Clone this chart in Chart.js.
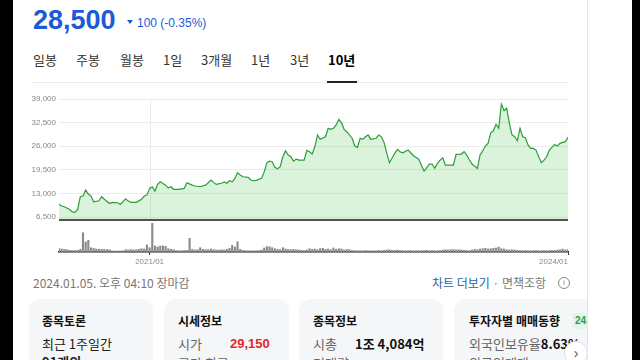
<!DOCTYPE html>
<html>
<head>
<meta charset="utf-8">
<script src="https://cdn.jsdelivr.net/npm/chart.js@4"></script>
<style>
  body { margin: 0; width: 640px; height: 360px; overflow: hidden; background: #000; position: relative;
         font-family: "Noto Sans CJK KR", "Noto Sans", sans-serif; }
  #page { position: absolute; left: 13px; top: 0; width: 619px; height: 360px; background: #fff; }
  #panel { position: absolute; left: 13px; top: 0; width: 574px; height: 360px; border-right: 1px solid #e4e4e4; overflow: hidden; }
  .t { position: absolute; white-space: nowrap; }
  .card { position: absolute; top: 299px; height: 80px; background: #f5f6f7; border-radius: 12px; }
  #chart { position: absolute; left: 0; top: 90px; }
</style>
</head>
<body>
<div id="page"></div>
<div id="panel">
  <div class="t" style="left:20px;top:7px;font:bold 27px/27px 'Liberation Sans';color:#1b5bd8;">28,500</div>
  <div class="t" style="left:114px;top:20px;width:0;height:0;border-left:3px solid transparent;border-right:3px solid transparent;border-top:4px solid #1b5bd8;"></div>
  <div class="t" style="left:124px;top:17px;font:12px/12px 'Liberation Sans';color:#1b5bd8;">100 (-0.35%)</div>

  <div class="t" style="left:20px;top:52px;font-size:13px;line-height:16px;color:#333;">일봉</div>
  <div class="t" style="left:63px;top:52px;font-size:13px;line-height:16px;color:#333;">주봉</div>
  <div class="t" style="left:107px;top:52px;font-size:13px;line-height:16px;color:#333;">월봉</div>
  <div class="t" style="left:150px;top:52px;font-size:13px;line-height:16px;color:#333;">1일</div>
  <div class="t" style="left:188px;top:52px;font-size:13px;line-height:16px;color:#333;">3개월</div>
  <div class="t" style="left:238px;top:52px;font-size:13px;line-height:16px;color:#333;">1년</div>
  <div class="t" style="left:277px;top:52px;font-size:13px;line-height:16px;color:#333;">3년</div>
  <div class="t" style="left:315px;top:52px;font-size:13px;line-height:16px;color:#000;font-weight:bold;">10년</div>
  <div class="t" style="left:19px;top:82px;width:536px;height:1px;background:#ececec;"></div>
  <div class="t" style="left:314px;top:81px;width:30px;height:2px;background:#222;"></div>

  <div class="t" style="left:20px;top:275px;font-size:12px;line-height:16px;color:#777;">2024.01.05. 오후 04:10 장마감</div>
  <div class="t" style="left:419px;top:275px;font-size:12px;line-height:16px;color:#2c5fa6;">차트 더보기 <span style="color:#777">· 면책조항</span></div>
  <div class="t" style="left:545px;top:277px;width:10px;height:10px;border:1px solid #888;border-radius:50%;font:8px/10px 'Liberation Sans';color:#888;text-align:center;">i</div>

  <div class="card" style="left:16px;width:124px;">
    <div class="t" style="left:13px;top:14px;font-size:12px;line-height:16px;font-weight:bold;color:#111;">종목토론</div>
    <div class="t" style="left:13px;top:37px;font-size:13px;line-height:16px;color:#222;">최근 1주일간</div>
    <div class="t" style="left:13px;top:55px;font-size:13px;line-height:16px;color:#222;font-weight:bold;">91개의</div>
  </div>
  <div class="card" style="left:151px;width:125px;">
    <div class="t" style="left:14px;top:14px;font-size:12px;line-height:16px;font-weight:bold;color:#111;">시세정보</div>
    <div class="t" style="left:14px;top:37px;font-size:13px;line-height:16px;color:#666;">시가</div>
    <div class="t" style="left:66px;top:37px;font:bold 13px/16px 'Liberation Sans';color:#e0282e;">29,150</div>
    <div class="t" style="left:14px;top:56px;font-size:13px;line-height:16px;color:#666;">고가 최고</div>
  </div>
  <div class="card" style="left:286px;width:144px;">
    <div class="t" style="left:14px;top:14px;font-size:12px;line-height:16px;font-weight:bold;color:#111;">종목정보</div>
    <div class="t" style="left:14px;top:37px;font-size:13px;line-height:16px;color:#666;">시총</div>
    <div class="t" style="left:56px;top:37px;font-size:13px;line-height:16px;font-weight:bold;color:#111;">1조 4,084억</div>
    <div class="t" style="left:14px;top:56px;font-size:13px;line-height:16px;color:#666;">거래량</div>
  </div>
  <div class="card" style="left:441px;width:200px;">
    <div class="t" style="left:15px;top:14px;font-size:12px;line-height:16px;font-weight:bold;color:#111;">투자자별 매매동향</div>
    <div class="t" style="left:118px;top:14px;padding:0 3px;font:bold 10px/16px 'Liberation Sans';color:#1f9d4c;background:#e4f5e8;border-radius:4px;">24.01.05</div>
    <div class="t" style="left:15px;top:37px;font-size:13px;line-height:16px;color:#666;">외국인보유율<b style="color:#111">8.63%</b></div>
    <div class="t" style="left:15px;top:56px;font-size:13px;line-height:16px;color:#666;">외국인매매</div>
  </div>
  <div class="t" style="left:551px;top:341px;width:22px;height:22px;border:1px solid #ddd;border-radius:50%;background:#fff;font:14px/22px 'Liberation Sans';color:#555;text-align:center;">&#x203A;</div>

  <canvas id="chart" width="587" height="180" style="left:-13px;"></canvas>
</div>

<script>
// weeks counted from the listing week (2020-05-08); week 191 = 2024-01-05
const priceWeeks = [0,1,2,4,5,6,7,8,9,10,11,12,13,15,16,17,19,20,22,23,25,26,27,29,31,32,33,34,35,36,37,38,40,41,42,43,45,47,48,50,51,53,55,56,57,58,59,61,62,63,64,65,66,67,68,69,71,72,73,74,76,77,78,79,80,81,82,83,84,85,86,87,88,89,90,92,93,94,95,96,97,98,100,101,102,103,104,105,106,107,108,110,111,112,113,114,115,116,117,119,120,121,122,123,124,126,127,128,129,131,132,133,135,136,137,139,140,141,142,143,144,145,147,148,149,151,152,153,154,155,157,158,159,160,161,162,163,164,165,166,167,168,169,170,171,172,173,174,175,176,177,178,179,180,181,182,183,184,186,187,188,189,190,191];
const prices = [10000,9550,9350,8600,7950,7800,8600,12100,12300,13950,12850,12300,10700,11000,12100,11400,10250,10550,10450,10000,11550,10900,10550,10550,11400,12300,12550,14400,14850,13650,15500,16200,15300,14550,14850,14150,14150,14400,15950,15300,15050,14850,15300,15950,16700,16050,15500,15800,16150,15800,16500,16200,17150,18700,18050,17600,17450,16700,16500,16600,17150,18950,21450,21900,21750,20200,19800,20350,23100,24750,23600,23100,21900,22450,22200,22200,24850,24500,23850,25850,29100,27900,28600,30950,30650,30950,31850,33400,32450,30650,30000,28200,26050,25700,28200,27900,28600,29100,27900,28200,29100,28600,27000,24050,21450,24050,25150,24500,24200,24950,24200,23400,22450,20800,19150,21100,21100,19900,21300,22200,22850,20800,20800,20800,23750,23850,24500,23600,22200,21100,19900,23600,24750,26050,26800,29700,30250,32050,30950,37600,35800,36450,32300,29100,28600,27500,30950,28600,28350,26350,25400,25400,24950,23100,21450,22200,23100,24950,26500,26050,26800,27050,27250,28500];
// weekly volume, one value per week 0..191
const volume = [330,300,270,230,170,150,150,170,270,1930,
  1000,1170,430,370,300,270,270,250,250,230,
  120,100,100,100,120,230,200,250,200,230,
  270,330,300,700,430,2870,600,500,600,600,
  570,330,270,230,150,130,130,150,170,1370,
  270,200,230,430,270,230,230,300,230,200,
  200,230,200,270,370,670,500,1030,270,170,
  130,130,120,120,130,150,200,400,530,530,
  430,330,270,230,430,300,270,230,270,230,
  200,170,150,200,330,270,300,230,330,370,
  270,300,230,400,270,330,300,200,250,230,
  150,130,120,130,120,150,130,120,130,120,
  150,130,170,200,230,170,150,200,150,130,
  120,130,150,120,130,120,130,150,170,130,
  150,120,130,150,200,230,200,230,250,200,
  230,200,170,150,130,200,270,230,300,330,
  370,300,330,370,400,500,330,300,230,200,
  230,200,170,150,130,150,130,120,130,150,
  130,120,150,130,150,170,150,200,230,300,
  200,270];
const tickWeeks = [0, 34, 191];
const tickLabels = ['', '2021/01', '2024/01'];
const priceTicks = [6500, 13000, 19500, 26000, 32500, 39000];

const priceFrame = {
  id: 'priceFrame',
  beforeDatasetsDraw(chart) {
    const { ctx, scales: { x, y } } = chart;
    ctx.save();
    ctx.strokeStyle = '#ebebeb';
    ctx.lineWidth = 1;
    tickWeeks.slice(1, -1).forEach(w => {
      const px = Math.round(x.getPixelForValue(w)) + 0.5;
      ctx.beginPath();
      ctx.moveTo(px, y.top);
      ctx.lineTo(px, y.bottom);
      ctx.stroke();
    });
    ctx.restore();
  },
  afterDatasetsDraw(chart) {
    const { ctx, chartArea, scales: { y } } = chart;
    ctx.save();
    ctx.strokeStyle = '#1a1a1a';
    ctx.lineWidth = 1.5;
    ctx.beginPath();
    ctx.moveTo(chartArea.left, y.bottom);
    ctx.lineTo(chartArea.right, y.bottom);
    ctx.stroke();
    ctx.restore();
  }
};

const axisFont = { family: 'Liberation Sans', size: 8 };

new Chart(document.getElementById('chart'), {
  data: {
    datasets: [
      {
        type: 'line',
        data: priceWeeks.map((w, i) => ({ x: w, y: prices[i] })),
        yAxisID: 'y',
        borderColor: '#2a9e38',
        borderWidth: 1.2,
        backgroundColor: 'rgba(50,190,50,0.18)',
        fill: 'start',
        pointRadius: 0,
        tension: 0
      },
      {
        type: 'bar',
        data: volume.map((v, i) => ({ x: i, y: v })),
        yAxisID: 'vol',
        backgroundColor: '#8c8c8c',
        barThickness: 1.5
      }
    ]
  },
  options: {
    responsive: false,
    animation: false,
    layout: { padding: { top: 9, right: 19, left: 0, bottom: 0 } },
    plugins: { legend: { display: false }, tooltip: { enabled: false } },
    scales: {
      x: {
        type: 'linear',
        min: 0,
        max: 191,
        offset: false,
        afterBuildTicks: s => { s.ticks = tickWeeks.map(v => ({ value: v })); },
        afterFit: s => { s.height = 18; },
        ticks: {
          autoSkip: false, maxRotation: 0, align: 'inner', padding: 2,
          color: '#888', font: axisFont,
          callback: (v, i) => tickLabels[i]
        },
        grid: {
          drawOnChartArea: false, tickLength: 3, offset: false,
          tickColor: c => (c.index === 0 ? 'rgba(0,0,0,0)' : '#333')
        },
        border: { color: '#1a1a1a', width: 1.5 }
      },
      vol: {
        stack: 'p', stackWeight: 32,
        min: 0, max: 3200,
        afterFit: s => { s.width = 59; },
        ticks: { display: false },
        grid: { display: false },
        border: { display: false }
      },
      y: {
        stack: 'p', stackWeight: 121,
        min: 5700, max: 39000,
        afterBuildTicks: s => { s.ticks = priceTicks.map(v => ({ value: v })); },
        afterFit: s => { s.width = 59; },
        ticks: { color: '#888', font: axisFont, padding: 3, callback: v => v.toLocaleString('en-US') },
        grid: { color: '#ebebeb', drawTicks: false },
        border: { display: false }
      }
    }
  },
  plugins: [priceFrame]
});
</script>
</body>
</html>
